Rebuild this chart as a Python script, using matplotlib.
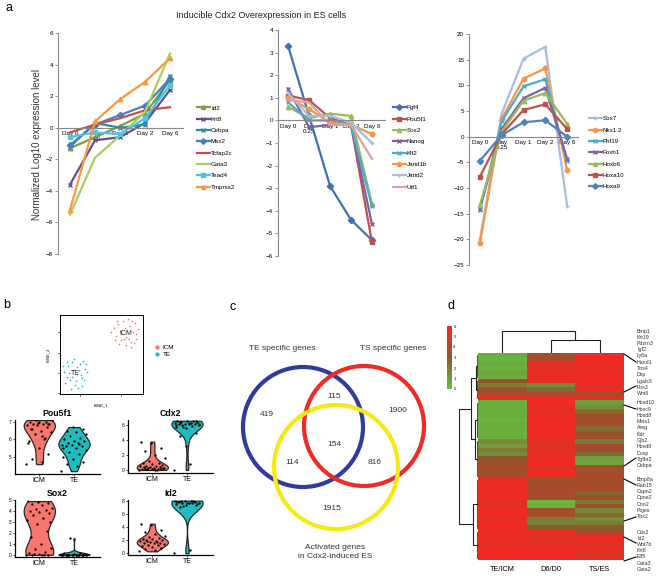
import matplotlib.pyplot as plt
import numpy as np
from matplotlib.colors import LinearSegmentedColormap
from matplotlib.patches import Circle

W, H = 660, 576
plt.rcParams['font.family'] = ['Liberation Sans', 'DejaVu Sans']

days = ["Day 0", "Day\n0.25", "Day 1", "Day 2", "Day 6"]

# ---- panel a: three groups of genes
up_genes = ["Id2", "Krt8", "Cebpa", "Msx2", "Tcfap2c", "Gata3", "Tead4", "Tmprss2"]
up_vals = [[-1.3, -0.6, 0.1, 0.9, 3.0],
           [-3.6, -0.8, -0.6, 0.3, 2.4],
           [-1.2, 0.3, 0.0, 0.2, 3.3],
           [-1.1, 0.2, 0.8, 1.4, 3.1],
           [-0.3, 0.2, 0.6, 1.1, 1.3],
           [-5.5, -1.9, -0.5, 1.0, 4.7],
           [-0.6, -0.3, -0.4, 0.6, 2.7],
           [-5.2, 0.4, 1.8, 2.9, 4.4]]
up_colors = ["#7f9f3f", "#6a4d8c", "#2e8fa3", "#4a7ec0", "#c8504a", "#a8cf5c", "#4cc4e6", "#f89a3a"]
up_markers = ["^", "x", "x", "D", "None", "None", "s", "^"]

down_genes = ["Fgf4", "Pou5f1", "Sox2", "Nanog", "Klf2", "Jarid1b", "Jarid2", "Utf1"]
down_vals = [[3.3, 0.2, -2.9, -4.4, -5.3],
             [1.1, 0.9, 0.1, -0.2, -5.4],
             [0.6, 0.1, 0.3, 0.2, -3.7],
             [1.4, -0.3, -0.2, -0.2, -4.6],
             [0.8, 0.0, 0.0, -0.2, -3.8],
             [1.0, 0.5, -0.1, -0.2, -0.6],
             [1.2, 0.2, 0.2, -0.1, -1.0],
             [0.9, 0.8, -0.2, -0.2, -1.7]]
down_colors = ["#3f72b5", "#c0504d", "#9bbb59", "#8064a2", "#4bacc6", "#f79646", "#a6bddf", "#e0a09e"]
down_markers = ["D", "s", "^", "x", "x", "o", "+", "None"]

trans_genes = ["Sox7", "Nkx1.2", "Phf19", "Foxh1", "Hoxb6", "Hoxa10", "Hoxa9"]
trans_vals = [[-20.0, 4.5, 15.2, 17.5, -13.5],
              [-20.8, 3.5, 11.3, 13.3, -6.5],
              [-14.3, 3.0, 9.8, 11.2, -4.8],
              [-14.0, 1.5, 7.5, 9.5, -4.3],
              [-13.3, 1.0, 7.0, 8.5, 2.5],
              [-7.8, 0.5, 5.2, 6.3, 1.5],
              [-4.7, 0.3, 2.8, 3.2, 0.0]]
trans_colors = ["#a6bddf", "#f79646", "#4bacc6", "#8064a2", "#9bbb59", "#c0504d", "#4f81bd"]
trans_markers = ["+", "o", "x", "x", "^", "s", "D"]

# ---- panel b: tSNE and violins
icm_tsne_x = [62, 65, 68, 70, 72, 74, 76, 78, 80, 82, 84, 86, 88, 90, 92, 94, 66, 71, 79, 85, 89, 75, 81, 87, 69, 91, 77, 83]
icm_tsne_y = [78, 83, 74, 88, 80, 68, 92, 84, 72, 95, 86, 66, 78, 90, 70, 82, 68, 63, 62, 60, 64, 76, 80, 93, 93, 76, 70, 69]
te_tsne_x = [5, 8, 10, 12, 14, 16, 18, 20, 22, 24, 26, 28, 30, 33, 6, 9, 13, 17, 19, 23, 27, 31, 11, 15, 21, 25, 29, 4]
te_tsne_y = [28, 22, 35, 18, 40, 30, 12, 25, 8, 38, 20, 42, 32, 28, 14, 40, 6, 44, 16, 31, 10, 38, 26, 22, 34, 24, 18, 36]

vln_genes = ["Pou5f1", "Cdx2", "Sox2", "Id2"]
vln_icm = [
    [4.6, 4.7, 4.9, 5.2, 5.5, 5.9, 6.1, 6.3, 6.4, 6.5, 6.6, 6.7, 6.8, 6.8, 6.9, 6.9, 6.9, 7.0, 7.0, 7.0, 7.1, 7.1, 6.2, 6.6, 6.85, 6.95, 5.8, 6.0],
    [0.0, 0.05, 0.1, 0.1, 0.15, 0.2, 0.2, 0.25, 0.3, 0.3, 0.35, 0.4, 0.45, 0.5, 0.5, 0.6, 0.7, 0.8, 0.9, 1.0, 1.2, 1.6, 2.0, 2.6, 3.0, 3.6, 3.8, 0.05, 0.15, 0.25],
    [0, 0, 0, 0, 0.1, 0.2, 0.3, 0.5, 0.6, 1.0, 1.6, 2.2, 2.8, 3.2, 3.4, 3.6, 3.8, 3.9, 4.0, 4.1, 4.2, 4.3, 4.5, 4.6, 4.7, 4.8, 4.9, 0, 0.05, 3.0],
    [0.3, 0.5, 0.7, 0.8, 1.0, 1.1, 1.2, 1.3, 1.4, 1.5, 1.5, 1.6, 1.7, 1.8, 1.9, 2.0, 2.0, 2.1, 2.2, 2.3, 2.5, 2.7, 2.9, 3.2, 3.6, 4.3, 4.5, 1.65, 1.85]]
vln_te = [
    [4.2, 4.5, 4.6, 4.7, 4.9, 5.0, 5.2, 5.3, 5.4, 5.5, 5.6, 5.6, 5.7, 5.7, 5.8, 5.8, 5.9, 5.9, 6.0, 6.1, 6.2, 6.3, 6.4, 6.5, 6.6, 6.7, 5.5, 5.75],
    [0.0, 0.8, 4.5, 5.0, 5.6, 5.8, 5.9, 6.0, 6.0, 6.1, 6.1, 6.2, 6.2, 6.3, 6.3, 6.4, 6.4, 6.5, 6.5, 6.6, 5.7, 6.15, 6.35, 6.45, 6.55, 3.2, 6.05],
    [0, 0, 0, 0, 0, 0, 0, 0, 0, 0, 0, 0, 0, 0, 0, 0, 0.05, 0.1, 0.15, 0.2, 1.5, 0, 0, 0, 0],
    [0.0, 0.5, 7.0, 7.3, 7.4, 7.5, 7.6, 7.6, 7.7, 7.7, 7.8, 7.8, 7.9, 7.9, 8.0, 8.0, 7.5, 7.65, 7.85, 7.95, 7.2]]
vln_ylim = [(4.04, 7.1), (-0.4, 6.7), (-0.2, 5.0), (-0.26, 8.1)]
vln_ticks = [[5, 6, 7], [0, 2, 4, 6], [0, 1, 2, 3, 4, 5], [0, 2, 4, 6, 8]]

# ---- panel c: Venn counts
venn_counts = {"TE": 419, "TS": 1900, "TE_TS": 115, "all": 154, "TE_ES": 114, "TS_ES": 816, "ES": 1915}

# ---- panel d: heatmap
col_names = ["TE/ICM", "D6/D0", "TS/ES"]
te_icm = [0.5, 0.3, 0.6, 0.4, 0.8, 0.5, 3.5, 2.0, 3.6, 3.8, 5.8,
          0.5, 0.4, 0.6, 0.5, 0.3, 0.6, 0.4, 0.5, 0.5, 1.5, 1.0, 2.0, 1.5, 3.0, 3.7, 3.8, 3.6, 3.8,
          5.8, 6.0, 5.6, 5.9, 6.0, 5.7, 5.5, 6.0, 5.8, 5.6, 6.0, 5.9, 5.7, 6.0, 5.8, 5.6, 6.0, 6.0, 5.9]
d6_d0 = [3.8, 4.0, 5.8, 5.5, 6.0, 5.7, 5.8, 1.5, 2.5, 3.8, 5.8,
         6.0, 5.9, 5.6, 5.7, 6.0, 6.0, 6.0, 6.0, 5.8, 5.6, 5.5, 5.6, 5.9, 5.7, 6.0, 5.5, 6.0, 5.8,
         3.5, 3.8, 3.8, 3.9, 3.8, 0.3, 0.5, 3.6, 3.8, 2.0, 1.8, 3.0, 5.8, 5.5, 5.6, 5.8, 6.0, 6.0, 6.0]
ts_es = [6.0, 5.8, 6.0, 5.7, 5.8, 6.0, 5.9, 5.5, 6.0, 3.9, 5.6,
         1.0, 1.5, 2.5, 3.8, 3.6, 3.8, 2.5, 3.5, 3.6, 2.0, 3.8, 3.7, 2.5, 1.0, 0.8, 3.8, 3.7, 3.8,
         3.8, 3.8, 3.9, 2.5, 3.7, 2.0, 3.5, 1.8, 2.5, 1.5, 2.0, 3.0, 3.5, 5.6, 5.8, 5.5, 6.0, 5.2, 5.8]
row_groups = [["Bmp1", "Krt19", "Pdzrn3", "Igf2", "Ly6a", "Hand1", "Tns4", "Dsp", "Lgals3", "Fbs3", "Wnt6"],
              ["Hoxd10", "Hoxc9", "Hoxd8", "Meis1", "Areg", "Kdr", "Gjb2", "Hoxd9", "Dusp", "Tgfbr2", "Cebpa"],
              ["Bmp8a", "Rab15", "Capn2", "Cpne2", "Cnn2", "Ptges", "Tbx2"],
              ["Cdx2", "Id2", "Wnt7b", "Krt8", "Elf5", "Gata3", "Gata2"]]
# row clusters (first row, last row, height) and joins (row a, row b, h a, h b, h)
row_clusters = [(0, 5, 0.4), (6, 10, 0.6), (11, 19, 0.5), (20, 28, 0.8), (29, 40, 0.7), (41, 47, 0.5)]
row_joins = [(2.5, 8, 0.4, 0.6, 1.3), (15, 24, 0.5, 0.8, 1.8), (34.5, 44, 0.7, 0.5, 2.6),
             (5.25, 19.5, 1.3, 1.8, 3.5), (12.375, 39.25, 3.5, 2.6, 10)]
col_joins = [(1, 2, 0, 0, 0.55), (0, 1.5, 0, 0.55, 0.95)]


def box(x0, y0, x1, y1):
    return [x0 / W, 1 - y1 / H, (x1 - x0) / W, (y1 - y0) / H]


fig = plt.figure(figsize=(6.6, 5.76), dpi=100)


def line_panel(rect, xlim, genes, vals, colors, markers, ylim, yticks, leg_xy):
    ax = fig.add_axes(box(*rect))
    # spine position first: it resets the ticks
    ax.spines['bottom'].set_position(('data', 0))
    x = np.arange(len(days))
    for g, v, c, m in zip(genes, vals, colors, markers):
        ax.plot(x, v, color=c, lw=1.6, marker=m, ms=3.2, mew=1.0, label=g)
    ax.set_xlim(*xlim)
    ax.set_ylim(*ylim)
    ax.set_yticks(yticks)
    ax.set_xticks(x)
    ax.set_xticklabels(days, linespacing=1.0)
    ax.tick_params(axis='y', labelsize=4.5, length=2, width=0.6, color='#888888', pad=1.5)
    ax.tick_params(axis='x', labelsize=4.5, length=0, pad=2.5)
    for s in ['top', 'right']:
        ax.spines[s].set_visible(False)
    for s in ['left', 'bottom']:
        ax.spines[s].set_color('#888888')
        ax.spines[s].set_linewidth(0.8)
    ax.patch.set_alpha(0)
    ax.legend(loc='upper left', bbox_to_anchor=(leg_xy[0] / W, 1 - leg_xy[1] / H),
              bbox_transform=fig.transFigure, frameon=False, fontsize=4.5,
              handlelength=2.0, labelspacing=0.95, borderpad=0, handletextpad=0.2,
              markerscale=0.9)
    return ax


line_panel((58, 33, 183, 254), (-0.48, 4.52), up_genes, up_vals, up_colors, up_markers,
           (-8, 6), range(-8, 7, 2), (194, 102))
line_panel((278, 30, 385, 256), (-0.48, 4.62), down_genes, down_vals, down_colors, down_markers,
           (-6, 4), range(-6, 5, 1), (390, 102))
line_panel((469, 34, 578, 265), (-0.5, 4.5), trans_genes, trans_vals, trans_colors, trans_markers,
           (-25, 20), range(-25, 21, 5), (586, 113))

# ---- panel b
red_c, teal_c = "#f8766d", "#1fbcbf"
ax = fig.add_axes(box(60, 315, 143, 394))
ax.scatter(icm_tsne_x, icm_tsne_y, s=1.5, color=red_c, label="ICM", lw=0)
ax.scatter(te_tsne_x, te_tsne_y, s=1.5, color=teal_c, label="TE", lw=0)
ax.text(np.mean(icm_tsne_x), np.mean(icm_tsne_y), "ICM", fontsize=5, color='#333333', ha='center', va='center')
ax.text(np.mean(te_tsne_x), np.mean(te_tsne_y), "TE", fontsize=5, color='#333333', ha='center', va='center')
ax.set_xlim(0, 100)
ax.set_ylim(0, 100)
ax.set_xticks([24, 74])
ax.set_yticks([1, 26, 52, 78])
ax.set_xticklabels([])
ax.set_yticklabels([])
ax.tick_params(length=1.5, width=0.5)
for s in ax.spines.values():
    s.set_linewidth(0.7)
ax.set_xlabel("tSNE_1", fontsize=3, labelpad=2)
ax.set_ylabel("tSNE_2", fontsize=3, labelpad=2)
ax.legend(loc='center left', bbox_to_anchor=(1.05, 0.55), frameon=False, fontsize=4.5,
          handletextpad=0.0, labelspacing=0.3, markerscale=2.5, borderpad=0)

vln_boxes = [(15, 420, 100, 474), (128, 420, 213, 473), (15, 500, 100, 557), (128, 500, 213, 555)]
for i, g in enumerate(vln_genes):
    ax = fig.add_axes(box(*vln_boxes[i]))
    parts = ax.violinplot([vln_icm[i], vln_te[i]], positions=[1, 2], widths=0.9,
                          showextrema=False)
    for body, c in zip(parts['bodies'], [red_c, teal_c]):
        body.set_facecolor(c)
        body.set_edgecolor('#222222')
        body.set_linewidth(0.85)
        body.set_alpha(1)
    for pos, vals in zip([1, 2], [vln_icm[i], vln_te[i]]):
        n = len(vals)
        jit = ((np.arange(n) * 0.618) % 1 - 0.5) * 0.75
        ax.scatter(pos + jit, vals, s=2.8, color='black', lw=0, zorder=3)
    ax.set_xlim(0.3, 2.75)
    ax.set_ylim(*vln_ylim[i])
    ax.set_yticks(vln_ticks[i])
    ax.set_xticks([1, 2])
    ax.set_xticklabels(["ICM", "TE"], fontsize=5)
    ax.tick_params(axis='y', labelsize=3.5, length=1.5, width=0.5, pad=1)
    ax.tick_params(axis='x', length=1.5, width=0.5, pad=1)
    for s in ['top', 'right']:
        ax.spines[s].set_visible(False)
    for s in ['left', 'bottom']:
        ax.spines[s].set_linewidth(0.9)
    ax.set_title(g, fontsize=6.3, fontweight='bold', pad=3)
    ax.patch.set_alpha(0)

# ---- panel d heatmap
cmap = LinearSegmentedColormap.from_list("gbr", ["#66be43", "#8a5a2e", "#f02a24"])
mat = np.column_stack([te_icm, d6_d0, ts_es])
hax = fig.add_axes(box(478, 353, 624, 560))
im = hax.imshow(mat, aspect='auto', cmap=cmap, vmin=0, vmax=6, interpolation='nearest')
hax.set_xticks([])
hax.set_yticks([])
for s in hax.spines.values():
    s.set_visible(False)
for j, name in enumerate(col_names):
    hax.text(j, 47.5 + 1.5, name, ha='center', va='top', fontsize=5.3)

cax = fig.add_axes(box(447, 326, 452, 389))
cb = fig.colorbar(im, cax=cax, ticks=range(7))
cb.outline.set_visible(False)
cax.tick_params(labelsize=3, length=0, pad=1)

rax = fig.add_axes(box(459, 353, 478, 560))
for a, b, hh in row_clusters:
    rax.plot([hh, hh], [a, b], color='#333333', lw=0.6)
for ya, yb, ha_, hb, hh in row_joins:
    rax.plot([ha_, hh, hh, hb], [ya, ya, yb, yb], color='#222222', lw=0.8)
rax.set_xlim(10.2, 0)
rax.set_ylim(47.5, -0.5)
rax.axis('off')

dax = fig.add_axes(box(478, 330, 624, 353))
for xa, xb, ha_, hb, hh in col_joins:
    dax.plot([xa, xa, xb, xb], [ha_, hh, hh, hb], color='#222222', lw=0.8)
dax.set_xlim(-0.5, 2.5)
dax.set_ylim(0, 1)
dax.axis('off')

# ---- overlay for letters, titles, Venn, labels
ov = fig.add_axes([0, 0, 1, 1])
ov.set_xlim(0, W)
ov.set_ylim(H, 0)
ov.axis('off')
for letter, (lx, ly) in zip("abcd", [(5, 8), (3, 305), (230, 307), (448, 306)]):
    ov.text(lx, ly, letter, fontsize=9, ha='left', va='center')
ov.text(261, 15, "Inducible Cdx2 Overexpression in ES cells", fontsize=6.5, ha='center',
        va='center', color='#222222')
ov.text(37, 145, "Normalized Log10 expression level", fontsize=7, rotation=90,
        ha='center', va='center', color='#333333')

# Venn
for (cx, cy, r), c in zip([(303, 427, 60), (364, 426, 60), (336, 467, 62)],
                          ["#2f3c9e", "#ee2b27", "#f5ea14"]):
    ov.add_patch(Circle((cx, cy), r, fill=False, lw=3, edgecolor=c))
venn_pos = {"TE": (267, 414), "TS": (398, 411), "TE_TS": (334, 397), "all": (334, 444),
            "TE_ES": (292, 462), "TS_ES": (375, 462), "ES": (332, 508)}
for k, v in venn_counts.items():
    ov.text(*venn_pos[k], str(v), fontsize=6, ha='center', va='center', color='#333333')
ov.text(282, 349, "TE specific genes", fontsize=6, ha='center', va='center', color='#333333')
ov.text(393, 349, "TS specific genes", fontsize=6, ha='center', va='center', color='#333333')
ov.text(335, 552, "Activated genes\nin Cdx2-induced ES", fontsize=6, ha='center', va='center',
        color='#333333', linespacing=1.3)

# heatmap row labels and leader lines
group_y0 = [331, 403, 479, 532]
for names, y0 in zip(row_groups, group_y0):
    for k, nm in enumerate(names):
        ov.text(637, y0 + k * 6.25, nm, fontsize=3.8, ha='left', va='center', color='#333333')
for (x0, y0), (x1, y1) in [((624, 354), (636, 362)), ((624, 392), (636, 386)),
                           ((624, 405), (636, 409)), ((624, 466), (636, 458)),
                           ((624, 479), (636, 485)), ((624, 521), (636, 517)),
                           ((624, 537), (636, 543)), ((624, 561), (636, 557))]:
    ov.plot([x0, x1], [y0, y1], color='black', lw=0.8)

fig.savefig("out.png", dpi=100)
